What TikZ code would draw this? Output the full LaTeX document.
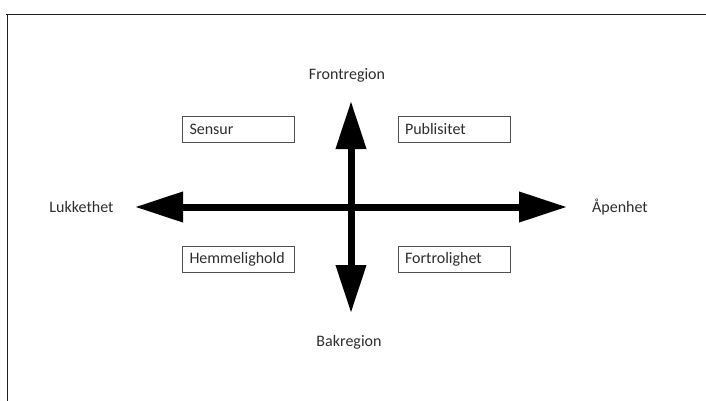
\documentclass[tikz,border=0pt]{standalone}
\usepackage{fontspec}
\setmainfont{Carlito}
\usepackage{xcolor}
\definecolor{txt}{RGB}{45,45,45}
\definecolor{frame}{RGB}{80,80,80}
\definecolor{edge}{RGB}{30,30,30}
\usepackage{tikz}
\usetikzlibrary{positioning, arrows.meta}
\tikzstyle{box} = [
    rectangle, draw=frame, thin,
    minimum height=26pt,
    text width=98pt, align=left,
    inner xsep=7pt, inner ysep=0pt,
    text=txt, font=\fontsize{16}{19}\selectfont,
]
\tikzstyle{axisname} = [
    text=txt, font=\fontsize{16}{19}\selectfont,
    inner sep=0pt,
]
\tikzstyle{arrow} = [
    line width=7pt,
    {Triangle[length=48pt,width=29pt]}-{Triangle[length=48pt,width=29pt]},
]

\begin{document}
\begin{tikzpicture}[x=1pt, y=-1pt]
    \useasboundingbox (0,0) rectangle (706,401);
    % frame
    \draw [edge, line width=1.5pt] (6,14.5) -- (706,14.5);
    \draw [edge, line width=1.5pt] (7.5,14.5) -- (7.5,401);

    % axis ends
    \node (c) at (351,207) [inner sep=0pt] {};
    \coordinate (lt) at (135,207);
    \coordinate (rt) at (567,207);
    \coordinate (tp) at (351,101);
    \coordinate (bt) at (351,313);

    % names
    \node (front) at (347,75) [axisname] {Frontregion};
    \node (bak) at (349,342) [axisname] {Bakregion};
    \node (lukk) at (81.5,207) [axisname] {Lukkethet};
    \node (apen) at (620,207) [axisname] {Åpenhet};

    % boxes
    \node (sensur) at (238.5,129) [box] {Sensur};
    \node (publ) at (454,129) [box] {Publisitet};
    \node (hemm) at (238.5,259) [box] {Hemmelighold};
    \node (fortr) at (454,259) [box] {Fortrolighet};

    % arrows
    \draw [arrow] (lt) -- (rt);
    \draw [arrow] (bt) -- (tp);

\end{tikzpicture}
\end{document}
